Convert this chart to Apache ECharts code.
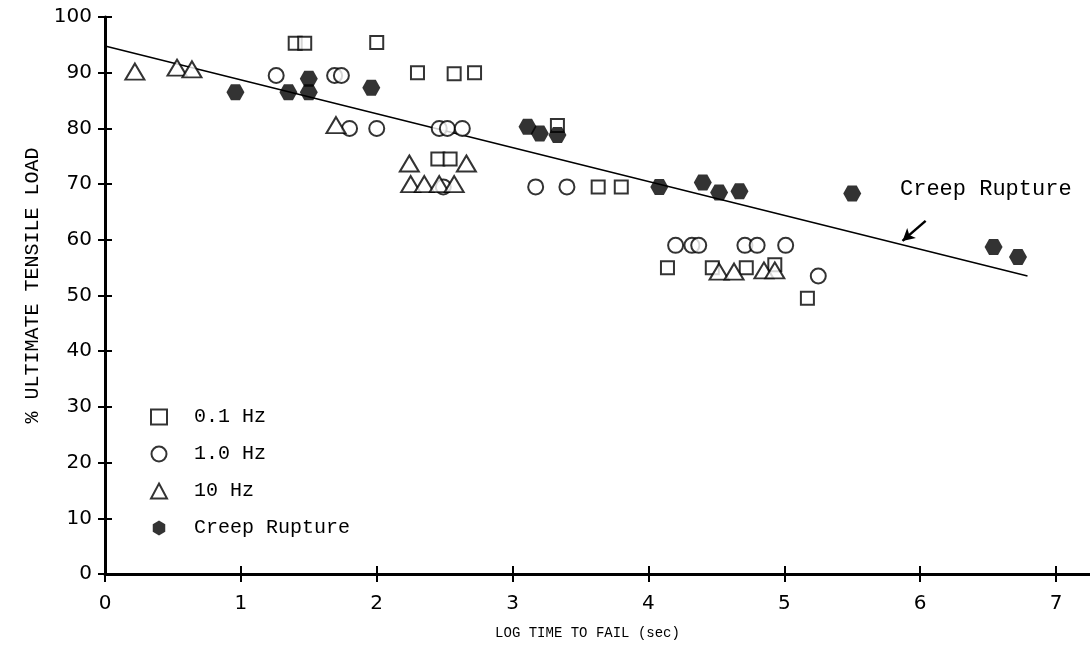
<!DOCTYPE html>
<html>
<head>
<meta charset="utf-8">
<script src="https://cdn.jsdelivr.net/npm/echarts@6/dist/echarts.min.js"></script>
<style>
  html, body { margin: 0; padding: 0; background: #fff; }
  #chart { width: 1090px; height: 650px; }
</style>
</head>
<body>
<div id="chart"></div>
<script>
// log time to fail (sec) vs % ultimate tensile load
const xTicks = [0, 1, 2, 3, 4, 5, 6, 7]
const sq01Hz = [[1.40, 95.3], [1.47, 95.3], [2.00, 95.4], [2.30, 90], [2.57, 89.8], [2.72, 90],
  [3.33, 80.5], [2.45, 74.5], [2.54, 74.5], [3.63, 69.5], [3.80, 69.5],
  [4.14, 55], [4.47, 55], [4.72, 55], [4.93, 55.5], [5.17, 49.5]]
const circ1Hz = [[1.26, 89.5], [1.69, 89.5], [1.74, 89.5], [1.80, 80], [2.00, 80],
  [2.46, 80], [2.52, 80], [2.63, 80], [2.49, 69.5], [3.17, 69.5], [3.40, 69.5],
  [4.20, 59], [4.32, 59], [4.37, 59], [4.71, 59], [4.80, 59], [5.01, 59], [5.25, 53.5]]
const tri10Hz = [[0.22, 90.2], [0.53, 90.9], [0.64, 90.6], [1.70, 80.6], [2.24, 73.7], [2.66, 73.7],
  [2.25, 70], [2.35, 70], [2.46, 70], [2.57, 70],
  [4.52, 54.3], [4.63, 54.3], [4.85, 54.5], [4.93, 54.5]]
const creep = [[0.96, 86.5], [1.35, 86.5], [1.50, 88.9], [1.50, 86.5], [1.96, 87.3],
  [3.11, 80.3], [3.20, 79.1], [3.33, 78.8], [4.08, 69.5], [4.40, 70.3], [4.52, 68.5],
  [4.67, 68.7], [5.50, 68.3], [6.54, 58.7], [6.72, 56.9]]
// fitted creep rupture line and its pointer arrow
const fitLine = [[0, 94.8], [6.79, 53.5]]
const arrowPts = [[6.04, 63.4], [5.87, 59.8]]

const hexFlat = 'path://M0,5L3,0L9,0L12,5L9,10L3,10Z'
const hexTall = 'path://M5,0L10,3L10,9L5,12L0,9L0,3Z'
const mono = 'Liberation Mono'
const hollow = { color: '#fff', borderColor: '#000', borderWidth: 2 }

let chart = echarts.init(document.getElementById('chart'))
let option = {
  animation: false,
  backgroundColor: '#fff',
  grid: { left: 105, right: 0, top: 17, bottom: 76 },
  legend: {
    orient: 'vertical',
    left: 145,
    top: 401,
    itemWidth: 16,
    itemHeight: 15,
    itemGap: 15,
    textStyle: { fontFamily: mono, fontSize: 20, lineHeight: 22, color: '#000', padding: [0, 0, 0, 22] },
    data: [
      { name: '0.1 Hz' },
      { name: '1.0 Hz' },
      { name: '10 Hz' },
      { name: 'Creep Rupture', icon: hexTall }
    ]
  },
  xAxis: [
    {
      type: 'value',
      min: 0,
      max: 7.25,
      position: 'bottom',
      name: 'LOG TIME TO FAIL (sec)',
      nameLocation: 'middle',
      nameGap: 52,
      nameTextStyle: { fontFamily: mono, fontSize: 14, color: '#000', padding: [0, 20, 0, 0] },
      axisLine: { lineStyle: { color: '#000', width: 3 } },
      axisTick: { length: 8, lineStyle: { color: '#000', width: 2 }, customValues: xTicks },
      axisLabel: { margin: 20, fontFamily: 'DejaVu Sans', fontSize: 20, color: '#000', customValues: xTicks },
      splitLine: { show: false }
    },
    {
      type: 'value',
      min: 0,
      max: 7.25,
      position: 'bottom',
      axisLine: { show: false },
      axisTick: { inside: true, length: 8, lineStyle: { color: '#000', width: 2 }, customValues: xTicks },
      axisLabel: { show: false },
      splitLine: { show: false }
    }
  ],
  yAxis: [
    {
      type: 'value',
      min: 0,
      max: 100,
      interval: 10,
      position: 'left',
      name: '% ULTIMATE TENSILE LOAD',
      nameLocation: 'middle',
      nameGap: 58,
      nameTextStyle: { fontFamily: mono, fontSize: 20, color: '#000', padding: [0, 0, 0, 20] },
      axisLine: { lineStyle: { color: '#000', width: 3 } },
      axisTick: { length: 7, lineStyle: { color: '#000', width: 2 } },
      axisLabel: { margin: 13, fontFamily: 'DejaVu Sans', fontSize: 20, color: '#000' },
      splitLine: { show: false }
    },
    {
      type: 'value',
      min: 0,
      max: 100,
      interval: 10,
      position: 'left',
      axisLine: { show: false },
      axisTick: { inside: true, length: 7, lineStyle: { color: '#000', width: 2 } },
      axisLabel: { show: false },
      splitLine: { show: false }
    }
  ],
  graphic: [
    {
      type: 'text',
      left: 900,
      top: 178,
      style: { text: 'Creep Rupture', font: '22px "Liberation Mono"', fill: '#000' }
    }
  ],
  series: [
    {
      name: 'fit',
      type: 'line',
      data: fitLine,
      symbol: 'none',
      lineStyle: { color: '#000', width: 1.5 },
      silent: true,
      z: 1,
      markLine: {
        silent: true,
        symbol: ['none', 'arrow'],
        symbolSize: [10, 12],
        label: { show: false },
        lineStyle: { color: '#000', width: 2.5, type: 'solid' },
        data: [[{ coord: arrowPts[0] }, { coord: arrowPts[1] }]]
      }
    },
    {
      name: '0.1 Hz',
      type: 'scatter',
      data: sq01Hz,
      symbol: 'rect',
      symbolSize: 13,
      itemStyle: hollow,
      z: 3
    },
    {
      name: '1.0 Hz',
      type: 'scatter',
      data: circ1Hz,
      symbol: 'circle',
      symbolSize: 15,
      itemStyle: hollow,
      z: 3
    },
    {
      name: '10 Hz',
      type: 'scatter',
      data: tri10Hz,
      symbol: 'triangle',
      symbolSize: [19, 16],
      itemStyle: hollow,
      z: 3
    },
    {
      name: 'Creep Rupture',
      type: 'scatter',
      data: creep,
      symbol: hexFlat,
      symbolSize: [18, 16],
      itemStyle: { color: '#000' },
      z: 4
    }
  ]
}
chart.setOption(option)
</script>
</body>
</html>
